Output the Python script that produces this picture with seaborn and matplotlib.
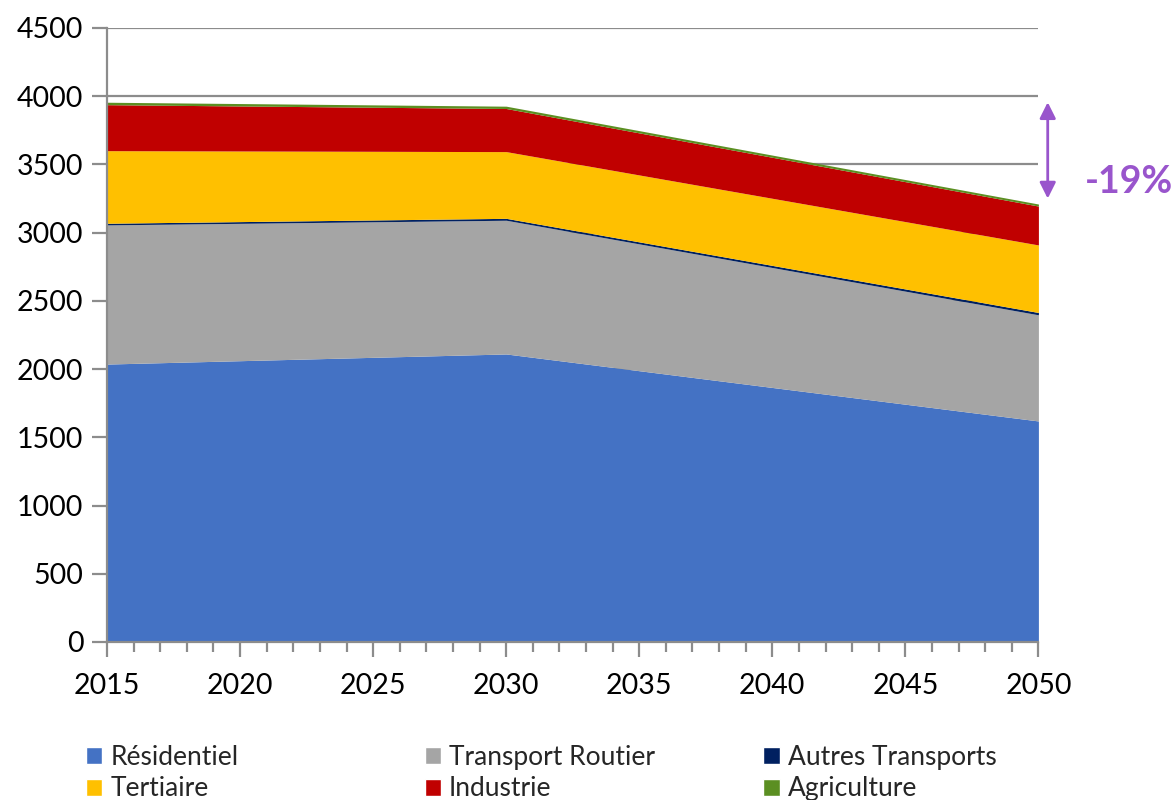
import matplotlib
matplotlib.use("Agg")
import matplotlib.pyplot as plt
import seaborn as sns
import pandas as pd
from matplotlib.patches import Patch
from matplotlib.ticker import MultipleLocator

years = [2015, 2030, 2050]
residentiel = [2037, 2111, 1620]
transport_routier = [1020, 980, 778]
autres_transports = [12, 14, 17]
tertiaire = [532, 489, 495]
industrie = [337, 316, 285]
agriculture = [18, 17, 15]

labels = ["Résidentiel", "Transport Routier", "Autres Transports",
          "Tertiaire", "Industrie", "Agriculture"]
colors = ["#4472C4", "#A5A5A5", "#002060", "#FFC000", "#C00000", "#5B8F22"]
baisse_label = "-19%"

df = pd.DataFrame({
    "Résidentiel": residentiel,
    "Transport Routier": transport_routier,
    "Autres Transports": autres_transports,
    "Tertiaire": tertiaire,
    "Industrie": industrie,
    "Agriculture": agriculture,
}, index=years)

sns.set_theme(style="white")
plt.rcParams['font.family'] = ['Lato', 'DejaVu Sans']

fig = plt.figure(figsize=(11.76, 8), dpi=100)
ax = fig.add_axes([0.091, 0.1975, 0.792, 0.7675])

pal = sns.color_palette(colors)
ax.stackplot(df.index, [df[c] for c in labels], colors=pal,
             linewidth=0, zorder=2)

ax.set_xlim(2015, 2050)
ax.set_ylim(0, 4500)
ax.yaxis.set_major_locator(MultipleLocator(500))
ax.xaxis.set_major_locator(MultipleLocator(5))
ax.xaxis.set_minor_locator(MultipleLocator(1))
ax.grid(axis="y", color="#8C8C8C", linewidth=1.6, zorder=0)
ax.set_axisbelow(True)

for s in ["top", "right"]:
    ax.spines[s].set_visible(False)
for s in ["left", "bottom"]:
    ax.spines[s].set_color("#8C8C8C")
    ax.spines[s].set_linewidth(1.6)
ax.spines["bottom"].set_zorder(3)

ax.tick_params(axis="y", which="major", left=True, length=11, width=1.6,
               color="#8C8C8C", labelsize=20.5, pad=6, labelcolor="black")
ax.tick_params(axis="x", which="major", bottom=True, length=11, width=1.6,
               color="#8C8C8C", labelsize=20.5, pad=11, labelcolor="black")
ax.tick_params(axis="x", which="minor", bottom=True, length=7, width=1.6,
               color="#8C8C8C")

# fleche de baisse
total = df.sum(axis=1)
ax.annotate("", xy=(2050.35, total.iloc[-1] + 40), xytext=(2050.35, total.iloc[0]),
            arrowprops=dict(arrowstyle="<|-|>", color="#9955CC", lw=2,
                            mutation_scale=24, shrinkA=0, shrinkB=0),
            annotation_clip=False)
ax.text(2051.75, 3370, baisse_label, color="#9955CC", fontsize=27,
        fontweight="bold", va="center", ha="left", clip_on=False)

# legende sur trois colonnes placees a la main
col_x = [0.073, 0.361, 0.649]
for k, x0 in enumerate(col_x):
    idx = [k, k + 3]
    handles = [Patch(facecolor=colors[i], label=labels[i]) for i in idx]
    fig.legend(handles=handles, ncol=1, loc="upper left",
               bbox_to_anchor=(x0, 0.069), frameon=False, fontsize=19,
               handlelength=0.62, handleheight=0.62, handletextpad=0.3,
               labelspacing=0.25, borderpad=0, borderaxespad=0)

fig.savefig("out.png", dpi=100)
